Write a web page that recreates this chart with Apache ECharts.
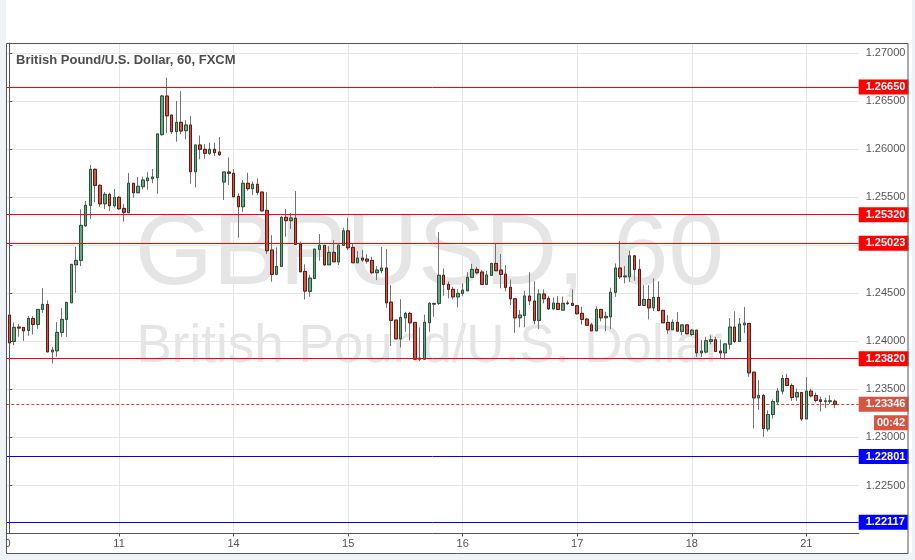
<!DOCTYPE html>
<html><head><meta charset="utf-8">
<script src="https://cdn.jsdelivr.net/npm/echarts@6/dist/echarts.min.js"></script>
<style>html,body{margin:0;padding:0;background:#eff2f6;}#c{width:915px;height:560px;}</style>
</head><body><div id="c"></div>
<script>
// ---- chart text ----
const symbol = 'GBPUSD';
const interval = '60';
const description = 'British Pound/U.S. Dollar';
const source = 'FXCM';
const countdown = '00:42';

// ---- x axis: day tick labels (first bar is 01:00 of day 10, hourly bars) ----
const dayLabels = ['10', '11', '14', '15', '16', '17', '18', '21'];
const barsPerDay = 24;
const firstBarHour = 1;

// ---- horizontal levels ----
const redLevels = [1.26650, 1.25320, 1.25023, 1.23820];
const blueLevels = [1.22801, 1.22117];

// ---- y axis ticks ----
const yTickMin = 1.22;
const yTickStep = 0.005;
const yTop = 1.27107;

// ---- OHLC (hourly) ----
const opens = [
1.24274,1.24000,1.24149,1.24146,1.24114,1.24239,1.24177,1.24333,1.24385,1.23891,1.23902,1.24094,1.24229,1.24402,1.24798,1.24844,1.25204,1.25417,1.25792,1.25625,1.25433,1.25531,1.25413,
1.25500,1.25385,1.25340,1.25646,1.25548,1.25611,1.25673,1.25694,1.25705,1.26153,1.26555,1.26357,1.26184,1.26281,1.26194,1.26253,1.25767,1.26045,1.26000,1.25958,1.26000,1.25972,1.25660,1.25764,
1.25750,1.25510,1.25402,1.25646,1.25590,1.25636,1.25555,1.25364,1.24951,1.24698,1.24781,1.25292,1.25257,1.25282,1.25014,1.24729,1.24521,1.24656,1.24958,1.25000,1.24798,1.24927,1.24829,1.25000,
1.25151,1.24979,1.24819,1.24868,1.24857,1.24843,1.24715,1.24736,1.24764,1.24409,1.24222,1.24027,1.24246,1.24292,1.24198,1.23815,1.23815,1.24194,1.24388,1.24396,1.24688,1.24594,1.24542,1.24464,
1.24500,1.24527,1.24667,1.24750,1.24722,1.24594,1.24688,1.24812,1.24743,1.24701,1.24563,1.24444,1.24246,1.24271,1.24472,1.24420,1.24219,1.24493,1.24448,1.24339,1.24396,1.24326,1.24399,1.24396,
1.24371,1.24292,1.24232,1.24172,1.24110,1.24333,1.24246,1.24257,1.24511,1.24764,1.24673,1.24673,1.24891,1.24750,1.24375,1.24437,1.24350,1.24458,1.24323,1.24198,1.24121,1.24198,1.24104,1.24172,
1.24072,1.24117,1.23881,1.23889,1.24000,1.24017,1.23899,1.23881,1.23971,1.24149,1.24000,1.24173,1.24187,1.23680,1.23412,1.23437,1.23089,1.23239,1.23370,1.23482,1.23614,1.23541,1.23422,1.23468,
1.23193,1.23482,1.23437,1.23391,1.23374,1.23374,1.23377
];
const closes = [
1.23985,1.24146,1.24139,1.24110,1.24239,1.24177,1.24333,1.24385,1.23891,1.23909,1.24094,1.24229,1.24406,1.24802,1.24844,1.25208,1.25417,1.25792,1.25625,1.25433,1.25531,1.25413,1.25500,
1.25381,1.25344,1.25646,1.25548,1.25615,1.25680,1.25701,1.25712,1.26160,1.26555,1.26349,1.26184,1.26281,1.26191,1.26253,1.25767,1.26045,1.26000,1.25958,1.26000,1.25965,1.25944,1.25764,1.25750,
1.25506,1.25402,1.25646,1.25590,1.25636,1.25552,1.25360,1.24944,1.24698,1.24781,1.25292,1.25257,1.25285,1.25010,1.24725,1.24524,1.24659,1.24961,1.25000,1.24798,1.24927,1.24829,1.25003,1.25151,
1.24975,1.24819,1.24868,1.24847,1.24836,1.24715,1.24743,1.24764,1.24402,1.24219,1.24027,1.24250,1.24292,1.24194,1.23815,1.23826,1.24198,1.24396,1.24396,1.24688,1.24594,1.24542,1.24464,1.24500,
1.24534,1.24667,1.24750,1.24715,1.24594,1.24691,1.24812,1.24736,1.24698,1.24563,1.24444,1.24246,1.24274,1.24472,1.24423,1.24219,1.24493,1.24444,1.24339,1.24399,1.24333,1.24396,1.24396,1.24375,
1.24288,1.24229,1.24168,1.24110,1.24333,1.24246,1.24261,1.24511,1.24764,1.24673,1.24681,1.24891,1.24750,1.24375,1.24437,1.24350,1.24458,1.24320,1.24194,1.24121,1.24198,1.24107,1.24172,1.24080,
1.24117,1.23881,1.23899,1.24007,1.24017,1.23895,1.23881,1.23974,1.24149,1.24000,1.24180,1.24190,1.23673,1.23412,1.23437,1.23093,1.23239,1.23374,1.23482,1.23614,1.23541,1.23416,1.23468,1.23193,
1.23482,1.23433,1.23385,1.23374,1.23381,1.23381,1.23346
];
const lows = [
1.23979,1.23961,1.24048,1.24006,1.24058,1.24073,1.24131,1.24298,1.23891,1.23770,1.23839,1.24048,1.24048,1.24402,1.24506,1.24784,1.25194,1.25274,1.25448,1.25402,1.25378,1.25357,1.25392,
1.25368,1.25246,1.25340,1.25496,1.25548,1.25584,1.25580,1.25646,1.25538,1.26143,1.26167,1.26160,1.26079,1.26156,1.26104,1.25642,1.25605,1.25896,1.25902,1.25938,1.25930,1.25930,1.25472,1.25628,
1.25503,1.25079,1.25350,1.25569,1.25524,1.25524,1.25350,1.24910,1.24621,1.24698,1.24781,1.25090,1.25171,1.25010,1.24725,1.24437,1.24464,1.24656,1.24840,1.24787,1.24798,1.24829,1.24795,1.25000,
1.24951,1.24819,1.24819,1.24829,1.24812,1.24698,1.24638,1.24708,1.24350,1.23951,1.24024,1.23937,1.24100,1.24009,1.23815,1.23794,1.23815,1.24100,1.24256,1.24378,1.24475,1.24448,1.24437,1.24354,
1.24472,1.24527,1.24667,1.24698,1.24594,1.24594,1.24688,1.24736,1.24553,1.24521,1.24378,1.24090,1.24147,1.24147,1.24378,1.24177,1.24131,1.24396,1.24326,1.24326,1.24333,1.24326,1.24378,1.24375,
1.24281,1.24175,1.24168,1.24110,1.24110,1.24208,1.24107,1.24128,1.24464,1.24649,1.24604,1.24618,1.24632,1.24375,1.24375,1.24229,1.24316,1.24320,1.24194,1.24080,1.24121,1.24107,1.24062,1.24080,
1.24055,1.23839,1.23839,1.23875,1.23970,1.23889,1.23823,1.23812,1.23916,1.23983,1.23993,1.24087,1.23631,1.23093,1.23287,1.23006,1.23062,1.23197,1.23336,1.23447,1.23534,1.23381,1.23381,1.23172,
1.23193,1.23416,1.23367,1.23272,1.23305,1.23349,1.23305
];
const highs = [
1.24281,1.24198,1.24180,1.24146,1.24266,1.24263,1.24333,1.24555,1.24427,1.23943,1.24201,1.24347,1.24406,1.24802,1.24985,1.25375,1.25462,1.25836,1.25802,1.25636,1.25555,1.25548,1.25587,
1.25514,1.25430,1.25753,1.25646,1.25712,1.25715,1.25761,1.25795,1.26160,1.26565,1.26745,1.26357,1.26503,1.26607,1.26305,1.26346,1.26045,1.26143,1.26055,1.26069,1.26069,1.26128,1.25764,1.25915,
1.25795,1.25542,1.25680,1.25757,1.25663,1.25696,1.25555,1.25555,1.25107,1.24979,1.25305,1.25378,1.25337,1.25566,1.25038,1.24802,1.24694,1.24961,1.25118,1.25000,1.24990,1.25055,1.25003,1.25183,
1.25288,1.25020,1.24941,1.24951,1.24906,1.24881,1.24784,1.24985,1.24961,1.24586,1.24222,1.24440,1.24309,1.24309,1.24198,1.24146,1.24279,1.24409,1.24396,1.25139,1.24760,1.24623,1.24569,1.24545,
1.24604,1.24722,1.24808,1.24776,1.24743,1.24736,1.24819,1.25014,1.24910,1.24795,1.24644,1.24444,1.24326,1.24527,1.24722,1.24626,1.24542,1.24542,1.24472,1.24458,1.24472,1.24466,1.24427,1.24542,
1.24371,1.24360,1.24243,1.24193,1.24364,1.24339,1.24309,1.24559,1.24812,1.25045,1.24784,1.24944,1.24901,1.24856,1.24586,1.24586,1.24656,1.24626,1.24323,1.24274,1.24229,1.24305,1.24172,1.24172,
1.24131,1.24117,1.24014,1.24048,1.24062,1.24048,1.24020,1.23974,1.24243,1.24315,1.24243,1.24360,1.24187,1.23680,1.23596,1.23454,1.23282,1.23395,1.23516,1.23651,1.23662,1.23562,1.23510,1.23468,
1.23628,1.23506,1.23468,1.23426,1.23412,1.23440,1.23395
];

// ---- build ----
const FONT = '"Liberation Sans", Arial, Helvetica, sans-serif';
const BG = '#eff2f6', AXC = '#555555', GRIDC = '#e6e6e6';
const UP = '#6ba583', DOWN = '#d75442', UPB = '#225437', DOWNB = '#5b1a13', WICK = '#737375';
const n = opens.length;
const idx = opens.map((_, i) => i);
const wickData = idx.map(i => [i, opens[i], closes[i], lows[i], highs[i]]);
const bodyData = idx.map(i => [i, opens[i], closes[i], Math.min(opens[i], closes[i]), Math.max(opens[i], closes[i])]);
const dayStarts = dayLabels.map((_, k) => k * barsPerDay - firstBarHour);
const lastClose = closes[n - 1];

function levelLine(v, color, boxColor) {
  return {
    yAxis: v,
    lineStyle: { color: color, width: 1, type: 'solid' },
    label: {
      show: true, position: 'end', distance: 0,
      formatter: () => v.toFixed(5),
      backgroundColor: boxColor, color: '#ffffff', fontWeight: 'bold',
      fontSize: 11, lineHeight: 11, fontFamily: FONT, padding: [2, 3, 2, 7]
    }
  };
}

const chart = echarts.init(document.getElementById('c'), null, { renderer: 'canvas' });
const option = {
  animation: false,
  backgroundColor: 'transparent',
  textStyle: { fontFamily: FONT },
  title: {
    text: description + ', ' + interval + ', ' + source,
    left: 16, top: 54, padding: 0,
    textStyle: { fontSize: 13, fontWeight: 'bold', color: '#4d4d4d', fontFamily: FONT }
  },
  grid: { left: 6.3, right: 56.3, top: 43, bottom: 26.5, containLabel: false, outerBoundsMode: 'none' },
  xAxis: {
    type: 'value', min: -0.63, max: 177.98,
    axisLine: { show: true, lineStyle: { color: AXC, width: 1 } },
    axisTick: { show: true, customValues: dayStarts, length: 3, lineStyle: { color: AXC } },
    axisLabel: {
      show: true, customValues: dayStarts, margin: 5, fontSize: 11, color: '#555555', fontFamily: FONT,
      formatter: v => dayLabels[Math.round((v + firstBarHour) / barsPerDay)]
    },
    splitLine: { show: true, lineStyle: { color: GRIDC, width: 1 } }
  },
  yAxis: {
    type: 'value', position: 'right', min: yTickMin, max: yTop, interval: yTickStep, scale: true,
    axisLine: { show: true, lineStyle: { color: AXC, width: 1 } },
    axisTick: { show: true, length: 3, lineStyle: { color: AXC } },
    axisLabel: {
      show: true, margin: 7, fontSize: 11, color: '#555555', fontFamily: FONT,
      showMinLabel: false, showMaxLabel: false,
      formatter: v => v.toFixed(5)
    },
    splitLine: { show: true, lineStyle: { color: GRIDC, width: 1 } }
  },
  series: [
    {
      name: 'wicks', type: 'candlestick', data: wickData, barWidth: 3, silent: true, z: 2,
      itemStyle: { color: 'rgba(0,0,0,0)', color0: 'rgba(0,0,0,0)', borderColor: WICK, borderColor0: WICK, borderWidth: 1 },
      markLine: {
        silent: true, symbol: ['none', 'none'], z: 1, animation: false, precision: 5,
        data: [{
          yAxis: lastClose,
          lineStyle: { color: '#e5432f', width: 1, type: [3, 2] },
          label: {
            show: true, position: 'end', distance: 0, formatter: () => lastClose.toFixed(5),
            backgroundColor: DOWN, color: '#ffffff', fontWeight: 'bold', fontSize: 11, lineHeight: 11,
            fontFamily: FONT, padding: [2, 3, 2, 7]
          }
        }]
      }
    },
    {
      name: symbol, type: 'candlestick', data: bodyData, barWidth: 3, silent: true, z: 3,
      itemStyle: { color: UP, color0: DOWN, borderColor: UPB, borderColor0: DOWNB, borderWidth: 1 },
      markLine: {
        silent: true, symbol: ['none', 'none'], animation: false, precision: 5,
        data: redLevels.map(v => levelLine(v, '#ff0000', '#ff0000'))
          .concat(blueLevels.map(v => levelLine(v, '#0000ff', '#0000ff')))
      }
    }
  ]
};
chart.setOption(option);

// decorations placed from the axes' own scales
const pxLast = chart.convertToPixel({ yAxisIndex: 0 }, lastClose);
const pxBottom = chart.convertToPixel({ yAxisIndex: 0 }, yTickMin);
const pxDay0 = chart.convertToPixel({ xAxisIndex: 0 }, dayStarts[0]);
const gridL = 6.3, gridR = 915 - 56.3;
const cx = (gridL + gridR) / 2;
chart.setOption({
  graphic: { elements: [
    { type: 'rect', silent: true, z: -100, shape: { x: 6, y: 0, width: 906, height: 554 }, style: { fill: '#ffffff' } },
    { type: 'text', silent: true, z: -50, x: cx - 3, y: 256,
      style: { text: symbol + ', ' + interval, font: '100px ' + FONT, fill: '#e5e5e5', align: 'center', verticalAlign: 'middle' } },
    { type: 'text', silent: true, z: -50, x: cx - 3, y: 347,
      style: { text: description, font: '53px ' + FONT, fill: '#e5e5e5', align: 'center', verticalAlign: 'middle' } },
    { type: 'text', silent: true, z: 40, x: pxDay0, y: pxBottom + 5,
      style: { text: dayLabels[0], font: '11px ' + FONT, fill: '#555555', align: 'center', verticalAlign: 'top' } },
    { type: 'rect', silent: true, z: 45, shape: { x: 0, y: 0, width: 6, height: 560 }, style: { fill: BG } },
    { type: 'rect', silent: true, z: 60, shape: { x: 6.5, y: 43.5, width: 901.5, height: 510 }, style: { fill: null, stroke: AXC, lineWidth: 1 } },
    { type: 'rect', silent: true, z: 60, shape: { x: gridR + 15.3, y: pxLast + 11, width: 34, height: 15 }, style: { fill: DOWN } },
    { type: 'text', silent: true, z: 61, x: gridR + 32.3, y: pxLast + 18.5,
      style: { text: countdown, font: 'bold 11px ' + FONT, fill: '#ffffff', align: 'center', verticalAlign: 'middle' } }
  ] }
});
</script>
</body></html>
